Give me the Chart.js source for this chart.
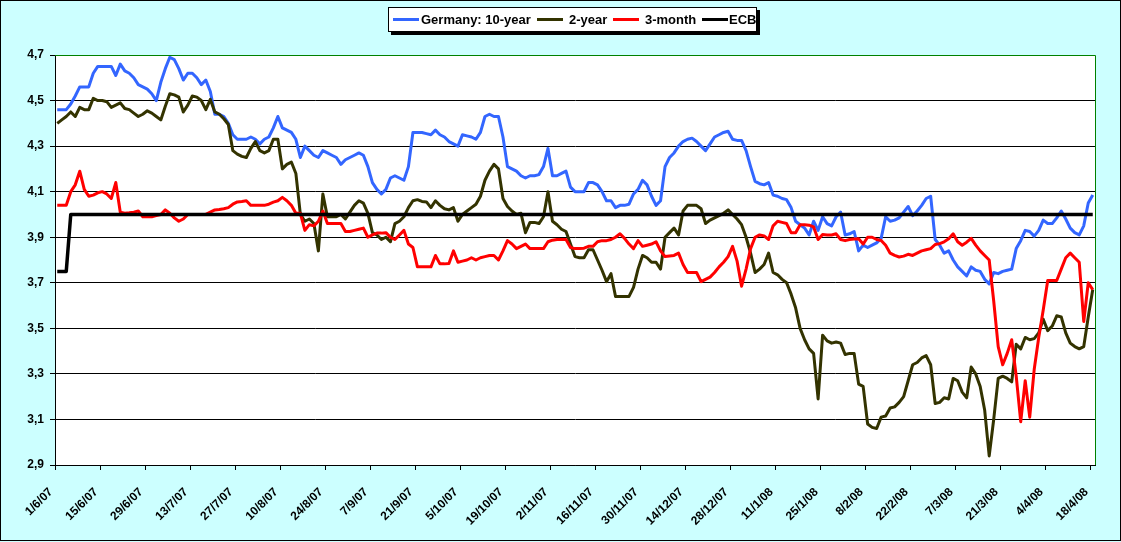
<!DOCTYPE html>
<html>
<head>
<meta charset="utf-8">
<script src="https://cdn.jsdelivr.net/npm/chart.js@4.4.1/dist/chart.umd.min.js"></script>
<style>
	html, body { margin: 0; padding: 0; background: #ccffff; }
	#wrap { position: relative; width: 1121px; height: 542px; }
</style>
</head>
<body>
<div id="wrap"><canvas id="chart-rates" width="1121" height="542"></canvas></div>
<script>
// one value per business day, 1/6/07 .. 18/4/08
var tickLabels = ["1/6/07", "15/6/07", "29/6/07", "13/7/07", "27/7/07", "10/8/07", "24/8/07", "7/9/07",
	"21/9/07", "5/10/07", "19/10/07", "2/11/07", "16/11/07", "30/11/07", "14/12/07", "28/12/07",
	"11/1/08", "25/1/08", "8/2/08", "22/2/08", "7/3/08", "21/3/08", "4/4/08", "18/4/08"];

var yTicks = [2.9, 3.1, 3.3, 3.5, 3.7, 3.9, 4.1, 4.3, 4.5, 4.7];

var tenYear = [
	4.46, 4.46, 4.46, 4.485, 4.52, 4.56, 4.56, 4.56, 4.62, 4.65,
	4.65, 4.65, 4.65, 4.61, 4.66, 4.63, 4.62, 4.60, 4.57, 4.56,
	4.55, 4.53, 4.50, 4.58, 4.64, 4.69, 4.68, 4.64, 4.59, 4.62,
	4.62, 4.60, 4.57, 4.59, 4.54, 4.44, 4.44, 4.43, 4.40, 4.35,
	4.33, 4.33, 4.33, 4.34, 4.33, 4.31, 4.33, 4.34, 4.38, 4.43,
	4.38, 4.37, 4.36, 4.33, 4.25, 4.30, 4.28, 4.26, 4.25, 4.28,
	4.27, 4.26, 4.25, 4.22, 4.24, 4.25, 4.26, 4.27, 4.26, 4.21,
	4.14, 4.11, 4.09, 4.11, 4.16, 4.17, 4.16, 4.15, 4.21, 4.36,
	4.36, 4.36, 4.355, 4.35, 4.37, 4.35, 4.34, 4.32, 4.31, 4.30,
	4.35, 4.345, 4.34, 4.33, 4.36, 4.43, 4.44, 4.43, 4.43, 4.34,
	4.21, 4.20, 4.19, 4.17, 4.16, 4.17, 4.17, 4.175, 4.21, 4.29,
	4.17, 4.17, 4.18, 4.19, 4.12, 4.10, 4.10, 4.10, 4.14, 4.14,
	4.13, 4.10, 4.06, 4.06, 4.03, 4.04, 4.04, 4.045, 4.09, 4.11,
	4.15, 4.13, 4.08, 4.04, 4.06, 4.21, 4.25, 4.27, 4.30, 4.32,
	4.33, 4.335, 4.32, 4.30, 4.28, 4.31, 4.34, 4.35, 4.36, 4.365,
	4.33, 4.325, 4.325, 4.28, 4.21, 4.145, 4.135, 4.13, 4.14, 4.085,
	4.08, 4.07, 4.065, 4.03, 3.97, 3.955, 3.94, 3.91, 3.97, 3.93,
	3.99, 3.96, 3.95, 3.99, 4.01, 3.91, 3.915, 3.925, 3.84, 3.865,
	3.855, 3.865, 3.875, 3.895, 3.99, 3.97, 3.975, 3.985, 4.01, 4.035,
	3.995, 4.015, 4.04, 4.07, 4.08, 3.89, 3.865, 3.83, 3.84, 3.80,
	3.77, 3.75, 3.73, 3.77, 3.755, 3.75, 3.715, 3.695, 3.745, 3.74,
	3.75, 3.755, 3.76, 3.85, 3.885, 3.93, 3.925, 3.905, 3.93, 3.975,
	3.96, 3.96, 3.985, 4.015, 3.98, 3.94, 3.92, 3.91, 3.95, 4.05,
	4.085];

var twoYear = [
	4.40, 4.415, 4.43, 4.45, 4.43, 4.47, 4.46, 4.46, 4.51, 4.50,
	4.50, 4.495, 4.47, 4.48, 4.49, 4.465, 4.46, 4.445, 4.43, 4.44,
	4.455, 4.445, 4.43, 4.415, 4.475, 4.53, 4.525, 4.515, 4.45, 4.48,
	4.52, 4.515, 4.50, 4.46, 4.505, 4.45, 4.44, 4.42, 4.395, 4.28,
	4.265, 4.255, 4.25, 4.29, 4.32, 4.28, 4.27, 4.28, 4.33, 4.33,
	4.20, 4.22, 4.23, 4.18, 4.00, 3.97, 3.98, 3.96, 3.84, 4.09,
	3.99, 3.99, 3.99, 4.00, 3.98, 4.01, 4.04, 4.06, 4.05, 4.005,
	3.92, 3.91, 3.89, 3.90, 3.88, 3.96, 3.97, 3.99, 4.03, 4.06,
	4.065, 4.057, 4.055, 4.03, 4.06, 4.04, 4.025, 4.02, 4.03, 3.97,
	4.00, 4.015, 4.03, 4.045, 4.08, 4.15, 4.19, 4.22, 4.20, 4.07,
	4.035, 4.015, 4.00, 4.005, 3.92, 3.965, 3.965, 3.96, 3.99, 4.10,
	3.97, 3.955, 3.935, 3.925, 3.87, 3.815, 3.81, 3.81, 3.845, 3.845,
	3.80, 3.755, 3.705, 3.74, 3.64, 3.64, 3.64, 3.64, 3.68, 3.76,
	3.82, 3.81, 3.79, 3.79, 3.76, 3.90, 3.92, 3.94, 3.91, 4.015,
	4.04, 4.04, 4.04, 4.025, 3.96, 3.975, 3.985, 3.995, 4.005, 4.02,
	4.00, 3.98, 3.955, 3.90, 3.83, 3.745, 3.76, 3.78, 3.83, 3.745,
	3.735, 3.715, 3.70, 3.65, 3.59, 3.50, 3.45, 3.41, 3.39, 3.19,
	3.47, 3.445, 3.435, 3.44, 3.435, 3.385, 3.39, 3.39, 3.255, 3.245,
	3.08, 3.065, 3.06, 3.11, 3.115, 3.15, 3.155, 3.175, 3.20, 3.27,
	3.34, 3.35, 3.37, 3.38, 3.34, 3.17, 3.175, 3.195, 3.19, 3.28,
	3.27, 3.22, 3.195, 3.33, 3.30, 3.245, 3.14, 2.94, 3.10, 3.28,
	3.29, 3.28, 3.265, 3.43, 3.41, 3.46, 3.45, 3.455, 3.48, 3.54,
	3.49, 3.51, 3.555, 3.55, 3.48, 3.435, 3.42, 3.41, 3.42, 3.55,
	3.67];

var threeMonth = [
	4.04, 4.04, 4.04, 4.10, 4.13, 4.19, 4.11, 4.08, 4.085, 4.095,
	4.10, 4.09, 4.07, 4.14, 4.01, 4.005, 4.007, 4.01, 4.015, 3.99,
	3.99, 3.99, 3.995, 4.00, 4.02, 4.005, 3.985, 3.97, 3.98, 4.00,
	4.00, 4.00, 4.00, 4.00, 4.01, 4.02, 4.022, 4.025, 4.03, 4.045,
	4.055, 4.057, 4.06, 4.04, 4.04, 4.04, 4.04, 4.045, 4.054, 4.06,
	4.075, 4.06, 4.04, 4.005, 4.005, 3.93, 3.955, 3.95, 3.97, 4.015,
	3.96, 3.96, 3.96, 3.96, 3.925, 3.925, 3.93, 3.935, 3.94, 3.90,
	3.91, 3.918, 3.918, 3.92, 3.90, 3.89, 3.91, 3.93, 3.87, 3.855,
	3.77, 3.77, 3.77, 3.77, 3.82, 3.783, 3.783, 3.785, 3.84, 3.79,
	3.795, 3.80, 3.81, 3.80, 3.81, 3.815, 3.82, 3.82, 3.80, 3.84,
	3.885, 3.87, 3.85, 3.86, 3.87, 3.85, 3.85, 3.85, 3.85, 3.88,
	3.887, 3.89, 3.89, 3.89, 3.855, 3.85, 3.85, 3.852, 3.86, 3.86,
	3.88, 3.885, 3.885, 3.89, 3.90, 3.915, 3.895, 3.87, 3.85, 3.885,
	3.86, 3.865, 3.87, 3.88, 3.84, 3.815, 3.818, 3.82, 3.83, 3.78,
	3.745, 3.745, 3.745, 3.705, 3.715, 3.725, 3.745, 3.77, 3.79, 3.815,
	3.86, 3.795, 3.685, 3.76, 3.85, 3.90, 3.91, 3.906, 3.89, 3.95,
	3.97, 3.965, 3.96, 3.92, 3.92, 3.955, 3.955, 3.953, 3.945, 3.89,
	3.912, 3.91, 3.91, 3.915, 3.89, 3.885, 3.89, 3.892, 3.893, 3.87,
	3.90, 3.90, 3.89, 3.886, 3.865, 3.83, 3.82, 3.813, 3.817, 3.825,
	3.82, 3.83, 3.84, 3.845, 3.85, 3.868, 3.872, 3.88, 3.893, 3.915,
	3.88, 3.865, 3.878, 3.895, 3.865, 3.84, 3.82, 3.80, 3.62, 3.42,
	3.34, 3.39, 3.45, 3.29, 3.09, 3.27, 3.11, 3.32, 3.46, 3.58,
	3.71, 3.71, 3.71, 3.76, 3.81, 3.83, 3.81, 3.79, 3.53, 3.70,
	3.67];

// ECB refi rate: day index of each change point
var ecbDays = [0, 2, 3, 230];
var ecbRate = [3.75, 3.75, 4.00, 4.00];

var FONT = '"Liberation Sans", Arial, sans-serif';

function points(values, days) {
	return values.map(function (v, i) {
		return {x: days ? days[i] : i, y: v};
	});
}

// cyan background, white plot area, green frame, boxed legend
var excelFrame = {
	id: 'excelFrame',
	beforeDraw: function (chart) {
		var c = chart.ctx, a = chart.chartArea;
		c.save();
		c.fillStyle = '#ccffff';
		c.fillRect(0, 0, chart.width, chart.height);
		c.fillStyle = '#ffffff';
		c.fillRect(a.left, a.top, a.right - a.left, a.bottom - a.top);
		c.restore();
	},
	afterDraw: function (chart) {
		var c = chart.ctx, a = chart.chartArea;
		c.save();
		c.strokeStyle = '#008000';
		c.lineWidth = 1;
		c.beginPath();
		c.moveTo(a.left, a.top + 0.5);
		c.lineTo(a.right + 0.5, a.top + 0.5);
		c.lineTo(a.right + 0.5, a.bottom);
		c.stroke();

		c.strokeStyle = '#000000';
		c.strokeRect(0.5, 0.5, chart.width - 1, chart.height - 2);

		// legend
		var boxL = 388, boxT = 7, boxW = 369, boxH = 25;
		c.fillStyle = '#000000';
		c.fillRect(boxL + 3, boxT + 3, boxW, boxH);
		c.fillStyle = '#ffffff';
		c.fillRect(boxL, boxT, boxW, boxH);
		c.strokeRect(boxL + 0.5, boxT + 0.5, boxW - 1, boxH - 1);

		var lineX = [393, 537, 613, 702];
		var textX = [421, 569, 645, 729];
		c.font = 'bold 13px ' + FONT;
		c.textBaseline = 'alphabetic';
		c.textAlign = 'left';
		chart.data.datasets.forEach(function (ds, i) {
			c.strokeStyle = ds.borderColor;
			c.lineWidth = 3;
			c.beginPath();
			c.moveTo(lineX[i], 19.5);
			c.lineTo(lineX[i] + 26, 19.5);
			c.stroke();
			c.fillStyle = '#000000';
			c.fillText(ds.label, textX[i], 24);
		});
		c.restore();
	}
};

var ctx = document.getElementById('chart-rates').getContext('2d');
new Chart(ctx, {
	type: 'line',
	data: {
		datasets: [{
			label: 'Germany: 10-year',
			data: points(tenYear),
			borderColor: '#3366ff',
			borderWidth: 3,
			order: 3
		}, {
			label: '2-year',
			data: points(twoYear),
			borderColor: '#333300',
			borderWidth: 3,
			order: 2
		}, {
			label: '3-month',
			data: points(threeMonth),
			borderColor: '#ff0000',
			borderWidth: 3,
			order: 1
		}, {
			label: 'ECB',
			data: points(ecbRate, ecbDays),
			borderColor: '#000000',
			borderWidth: 3.5,
			order: 0
		}]
	},
	options: {
		responsive: false,
		animation: false,
		devicePixelRatio: 1,
		layout: {
			padding: {top: 55, right: 26, bottom: 0, left: 0}
		},
		elements: {
			point: {radius: 0},
			line: {tension: 0, borderJoinStyle: 'round'}
		},
		plugins: {
			legend: {display: false},
			tooltip: {enabled: false}
		},
		scales: {
			x: {
				type: 'linear',
				min: -0.5,
				max: 230.5,
				afterFit: function (scale) { scale.height = 77; },
				afterBuildTicks: function (scale) {
					scale.ticks = tickLabels.map(function (t, k) { return {value: k * 10 - 0.5}; });
				},
				ticks: {
					autoSkip: false,
					maxRotation: 45,
					minRotation: 45,
					padding: 15,
					labelOffset: -4,
					color: '#000000',
					font: {family: FONT, size: 12, weight: 'bold'},
					callback: function (value, index) { return tickLabels[index]; }
				},
				grid: {drawOnChartArea: false, tickLength: 5, color: '#000000'},
				border: {color: '#000000', width: 1}
			},
			y: {
				min: 2.9,
				max: 4.7,
				afterFit: function (scale) { scale.width = 55; },
				afterBuildTicks: function (scale) {
					scale.ticks = yTicks.map(function (v) { return {value: v}; });
				},
				ticks: {
					padding: 6,
					color: '#000000',
					font: {family: FONT, size: 12, weight: 'bold'},
					callback: function (value) { return value.toFixed(1).replace('.', ','); }
				},
				grid: {color: '#000000', tickLength: 5},
				border: {color: '#000000', width: 1}
			}
		}
	},
	plugins: [excelFrame]
});
</script>
</body>
</html>
